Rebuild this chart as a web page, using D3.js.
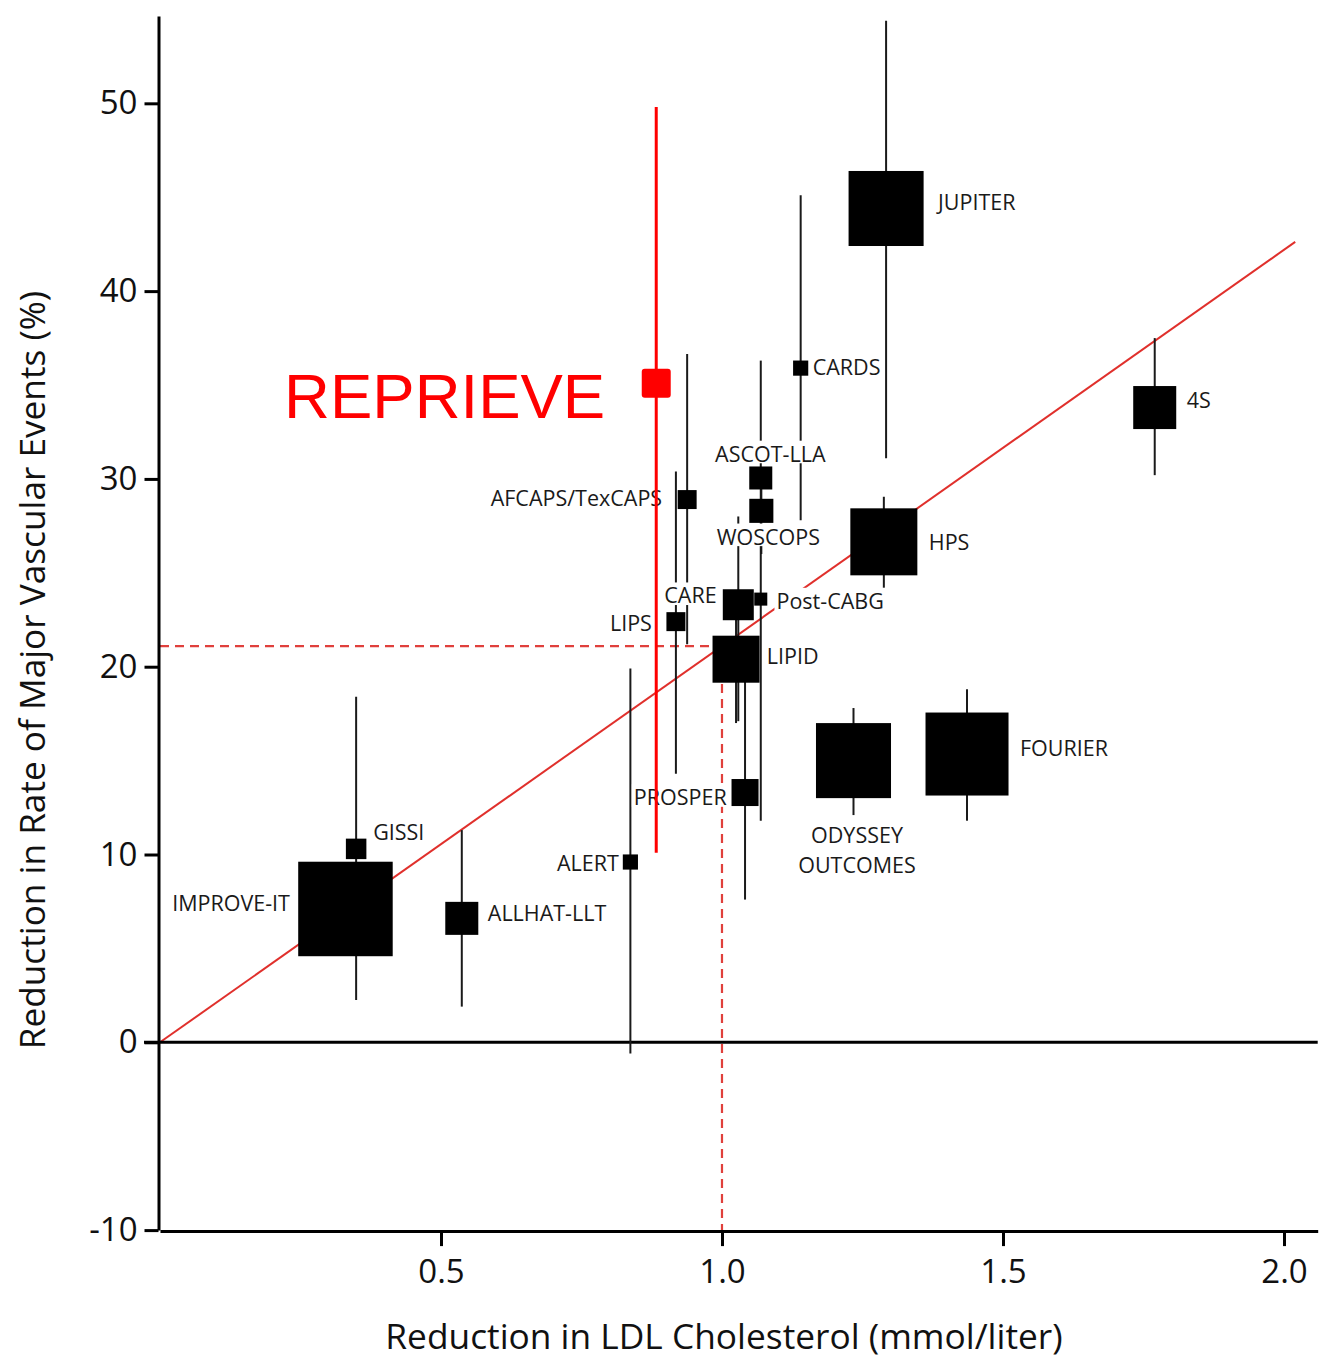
<!DOCTYPE html>
<html>
<head>
<meta charset="utf-8">
<script src="https://cdn.jsdelivr.net/npm/d3@7"></script>
<style>
  body { margin: 0; background: #fff; }
  svg { display: block; }
</style>
</head>
<body>
<svg id="chart" width="1319" height="1360"></svg>
<script>
// Statin / LDL-lowering trials: absolute LDL reduction vs relative reduction in major vascular events
const trialNames = ["JUPITER", "CARDS", "4S", "HPS", "ASCOT-LLA", "AFCAPS/TexCAPS", "WOSCOPS",
  "CARE", "Post-CABG", "LIPS", "LIPID", "PROSPER", "ODYSSEY OUTCOMES", "FOURIER",
  "GISSI", "IMPROVE-IT", "ALLHAT-LLT", "ALERT"];
const ldlReduction   = [1.292, 1.140, 1.770, 1.288, 1.069, 0.938, 1.070, 1.029, 1.069, 0.918, 1.025, 1.041, 1.234, 1.436, 0.349, 0.330, 0.537, 0.837];
const eventReduction = [44.4, 35.9, 33.8, 26.65, 30.05, 28.9, 28.3, 23.3, 23.6, 22.4, 20.4, 13.3, 15.0, 15.35, 10.3, 7.1, 6.6, 9.6];
const ciLower        = [31.1, 27.8, 30.2, 24.2, 27.0, 21.2, 26.0, 17.1, 11.8, 14.3, 17.0, 7.6, 12.1, 11.8, 2.25, 5.0, 1.9, -0.6];
const ciUpper        = [54.4, 45.1, 37.5, 29.05, 36.3, 36.65, 30.5, 28.0, 27.0, 30.4, 24.0, 19.5, 17.8, 18.8, 18.4, 9.4, 11.3, 19.9];
const trialWeight    = [56.3, 2.3, 18.5, 44.9, 5.3, 3.6, 5.8, 9.6, 1.7, 3.6, 22.1, 7.3, 56.3, 68.9, 4.2, 89.3, 10.9, 2.3];

// Highlighted trial
const highlightName = "REPRIEVE";
const highlightValues = [0.883, 35.1, 10.1, 49.8, 8.4]; // ldl, event reduction, CI low, CI high, weight

// Reference relation: % event reduction per 1 mmol/L LDL lowering
const slopePerMmol = 21.1;
const fitEnd = 2.02;

const xTickValues = [0.5, 1.0, 1.5, 2.0];
const yTickValues = [-10, 0, 10, 20, 30, 40, 50];
const xTitle = "Reduction in LDL Cholesterol (mmol/liter)";
const yTitle = "Reduction in Rate of Major Vascular Events (%)";

// Label placement around each box: [anchor, dx, dy] in px from the box centre
const labelLayout = {
  "JUPITER": ["start", 52, -6],
  "CARDS": ["start", 12, -1],
  "4S": ["start", 32, -7],
  "HPS": ["start", 45, 0],
  "ASCOT-LLA": ["middle", 9.5, -24],
  "AFCAPS/TexCAPS": ["end", -25, -1],
  "WOSCOPS": ["middle", 7, 26],
  "CARE": ["end", -21.6, -9],
  "Post-CABG": ["start", 15.7, 2],
  "LIPS": ["end", -24, 2],
  "LIPID": ["start", 30.7, -3],
  "PROSPER": ["end", -18.3, 5],
  "ODYSSEY OUTCOMES": ["middle", 3.5, 75],
  "FOURIER": ["start", 53, -6],
  "GISSI": ["start", 17, -17],
  "IMPROVE-IT": ["end", -55.5, -6],
  "ALLHAT-LLT": ["start", 26, -5],
  "ALERT": ["end", -11.5, 1]
};

const FONT = "'Open Sans', 'DejaVu Sans', sans-serif";
const svg = d3.select("#chart");

const x = d3.scaleLinear().domain([0, 2.06]).range([160, 1317.7]);
const y = d3.scaleLinear().domain([-10, 54.65]).range([1230.1, 16]);
const side = d3.scaleSqrt().domain([0, 100]).range([0, 100]);

const trials = trialNames.map((name, i) => ({
  name, ldl: ldlReduction[i], rrr: eventReduction[i],
  lo: ciLower[i], hi: ciUpper[i], w: trialWeight[i]
}));

// ---- reference lines ----
const ref = svg.append("g");
ref.append("line")
  .attr("x1", x(0)).attr("y1", y(0))
  .attr("x2", x(fitEnd)).attr("y2", y(fitEnd * slopePerMmol))
  .attr("stroke", "#e0302c").attr("stroke-width", 2);

ref.append("path")
  .attr("d", `M${x(0)},${y(slopePerMmol)}H${x(1)}V${y(-10)}`)
  .attr("fill", "none")
  .attr("stroke", "#e0403c").attr("stroke-width", 2.2)
  .attr("stroke-dasharray", "9,6");

// zero line
ref.append("line")
  .attr("x1", 144).attr("x2", x(2.06))
  .attr("y1", y(0)).attr("y2", y(0))
  .attr("stroke", "#000").attr("stroke-width", 3);

// ---- confidence intervals ----
svg.append("g").selectAll("line").data(trials).join("line")
  .attr("x1", d => x(d.ldl)).attr("x2", d => x(d.ldl))
  .attr("y1", d => y(d.hi)).attr("y2", d => y(d.lo))
  .attr("stroke", "#1a1a1a").attr("stroke-width", 2);

// ---- weighted boxes ----
svg.append("g").selectAll("rect").data(trials).join("rect")
  .attr("x", d => x(d.ldl) - side(d.w) / 2)
  .attr("y", d => y(d.rrr) - side(d.w) / 2)
  .attr("width", d => side(d.w))
  .attr("height", d => side(d.w))
  .attr("fill", "#000");

// ---- trial labels (white backing hides lines beneath) ----
const labelSize = 21.5;
const labels = svg.append("g");
trials.forEach(d => {
  const [anchor, dx, dy] = labelLayout[d.name];
  const cx = x(d.ldl) + dx, cy = y(d.rrr) + dy;
  const grp = labels.append("g");
  const bg = grp.append("rect").attr("fill", "#fff");
  const t = grp.append("text")
    .attr("x", cx).attr("y", cy)
    .attr("text-anchor", anchor)
    .attr("font-family", FONT).attr("font-size", labelSize)
    .attr("fill", "#1a1a1a");
  const lines = d.name === "ODYSSEY OUTCOMES" ? d.name.split(" ") : [d.name];
  lines.forEach((ln, k) => {
    t.append("tspan").attr("x", cx).attr("dy", k === 0 ? "0.36em" : "1.4em").text(ln);
  });
  const bb = t.node().getBBox();
  const h = lines.length === 1 ? labelSize * 1.05 : bb.height;
  bg.attr("x", bb.x - 2).attr("width", bb.width + 4)
    .attr("y", lines.length === 1 ? cy - h / 2 - 2 : bb.y)
    .attr("height", h);
});

// ---- axes ----
const yAxis = svg.append("g")
  .attr("transform", `translate(${x(0) - 1.5},0)`)
  .call(d3.axisLeft(y).tickValues(yTickValues).tickFormat(d => String(d))
    .tickSizeInner(14).tickSizeOuter(0).tickPadding(7));
const xAxis = svg.append("g")
  .attr("transform", `translate(0,${y(-10) + 1})`)
  .call(d3.axisBottom(x).tickValues(xTickValues).tickFormat(d3.format(".1f"))
    .tickSizeInner(15).tickSizeOuter(0).tickPadding(13));
[yAxis, xAxis].forEach(a => {
  a.select(".domain").attr("stroke", "#000").attr("stroke-width", 3);
  a.selectAll(".tick line").attr("stroke", "#000").attr("stroke-width", 3);
  a.selectAll(".tick text").attr("font-family", FONT).attr("font-size", 33).attr("fill", "#111");
});

svg.append("text")
  .attr("x", 724).attr("y", 1349)
  .attr("text-anchor", "middle")
  .attr("font-family", FONT).attr("font-size", 35.3).attr("fill", "#111")
  .text(xTitle);

svg.append("text")
  .attr("transform", `translate(45,${670}) rotate(-90)`)
  .attr("text-anchor", "middle")
  .attr("font-family", FONT).attr("font-size", 35.2).attr("fill", "#111")
  .text(yTitle);

// ---- highlighted trial ----
const [hLdl, hRrr, hLo, hHi, hW] = highlightValues;
const hi = svg.append("g");
hi.append("line")
  .attr("x1", x(hLdl)).attr("x2", x(hLdl))
  .attr("y1", y(hHi)).attr("y2", y(hLo))
  .attr("stroke", "#ff0000").attr("stroke-width", 3);
hi.append("rect")
  .attr("x", x(hLdl) - side(hW) / 2).attr("y", y(hRrr) - side(hW) / 2)
  .attr("width", side(hW)).attr("height", side(hW))
  .attr("rx", 3).attr("fill", "#ff0000");
hi.append("text")
  .attr("x", x(hLdl) - 51).attr("y", y(hRrr) + 12)
  .attr("dy", "0.36em")
  .attr("text-anchor", "end")
  .attr("font-family", "'Liberation Sans', Arial, sans-serif")
  .attr("font-size", 63.5).attr("fill", "#ff0000")
  .text(highlightName);
</script>
</body>
</html>
